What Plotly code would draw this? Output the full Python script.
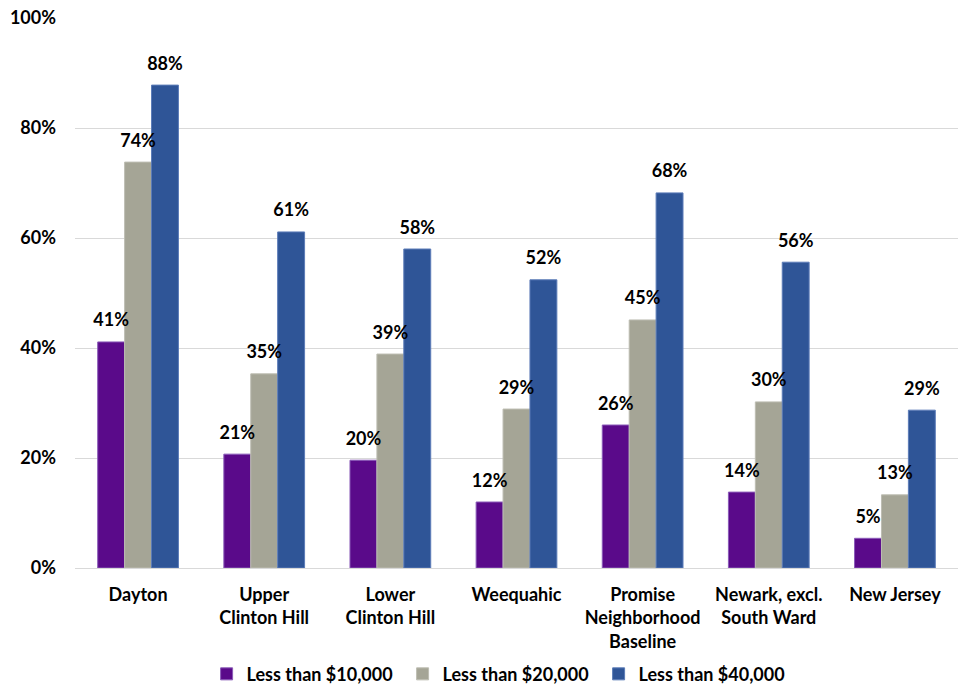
import plotly.graph_objects as go

categories = [
    "Dayton",
    "Upper<br>Clinton Hill",
    "Lower<br>Clinton Hill",
    "Weequahic",
    "Promise<br>Neighborhood<br>Baseline",
    "Newark, excl.<br>South Ward",
    "New Jersey",
]
series_names = ["Less than $10,000", "Less than $20,000", "Less than $40,000"]
under_10k = [41.1, 20.7, 19.6, 12.0, 26.0, 13.8, 5.4]
under_20k = [73.8, 35.3, 38.9, 28.9, 45.1, 30.2, 13.3]
under_40k = [87.8, 61.1, 58.0, 52.4, 68.2, 55.6, 28.7]
y_ticks = [0, 20, 40, 60, 80, 100]
y_tick_labels = ["0%", "20%", "40%", "60%", "80%", "100%"]

colors = ["#5A0A8A", "#A5A596", "#2F5597"]
edge_colors = ["#8A5AB8", "#BDBDB2", "#5C7CB8"]
FONT = "Lato"
FS = 18
GAP = 0.36

fig = go.Figure()
all_series = [under_10k, under_20k, under_40k]
for name, vals, col, edge in zip(series_names, all_series, colors, edge_colors):
    fig.add_trace(go.Bar(
        name=name,
        x=categories,
        y=vals,
        marker=dict(color=col, line=dict(color=edge, width=1)),
    ))

# value labels: grouped text-only scatter traces sit over their bars
for name, vals in zip(series_names, all_series):
    fig.add_trace(go.Scatter(
        x=categories,
        y=vals,
        mode="markers+text",
        marker=dict(size=16, opacity=0),
        text=[f"{round(v)}%" for v in vals],
        textposition="top center",
        textfont=dict(family=FONT, size=FS, color="#000000", weight="bold"),
        showlegend=False,
        hoverinfo="skip",
        cliponaxis=False,
    ))

fig.update_layout(
    width=960,
    height=685,
    margin=dict(l=75, r=2, t=18, b=117, autoexpand=False),
    paper_bgcolor="white",
    plot_bgcolor="white",
    barmode="group",
    bargap=GAP,
    bargroupgap=0,
    scattermode="group",
    scattergap=GAP,
    font=dict(family=FONT, size=FS, color="#000000"),
    showlegend=True,
    legend=dict(
        orientation="h",
        x=0.482,
        xanchor="center",
        y=-0.193,
        yanchor="middle",
        font=dict(family=FONT, size=FS, color="#000000", weight="bold"),
        entrywidth=151,
        entrywidthmode="pixels",
        traceorder="normal",
    ),
    xaxis=dict(
        showgrid=False,
        showline=False,
        ticks="",
        automargin=False,
        tickfont=dict(family=FONT, size=FS, color="#000000", weight="bold"),
        ticklabelstandoff=14,
    ),
    yaxis=dict(
        range=[0, 100],
        tickvals=y_ticks,
        ticktext=y_tick_labels,
        showgrid=True,
        gridcolor="#D9D9D9",
        gridwidth=1,
        zeroline=True,
        zerolinecolor="#D9D9D9",
        zerolinewidth=1,
        showline=False,
        ticks="",
        automargin=False,
        ticklabelstandoff=18,
        tickfont=dict(family=FONT, size=FS, color="#000000", weight="bold"),
    ),
)

fig.write_html("out.html")
